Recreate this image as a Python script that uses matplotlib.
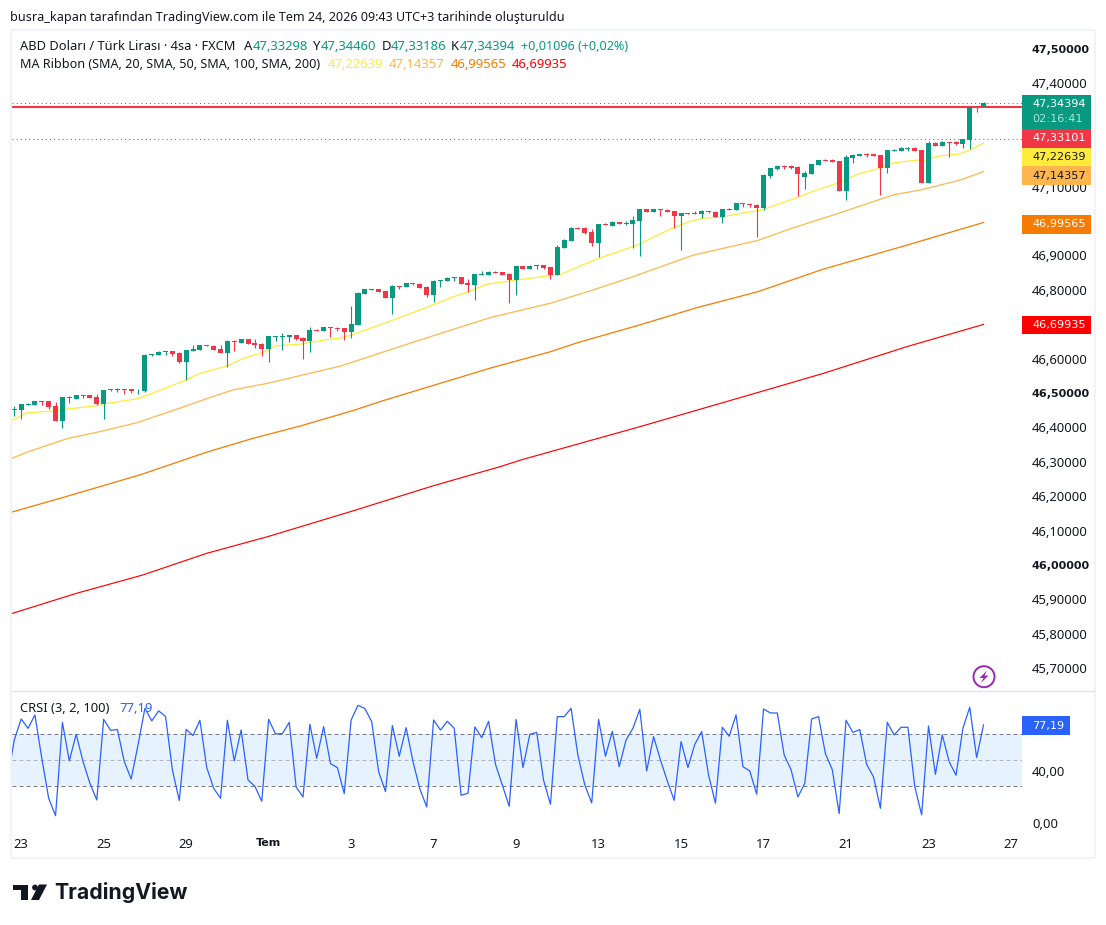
import numpy as np
import matplotlib
matplotlib.use("Agg")
import matplotlib.pyplot as plt
from matplotlib.patches import Rectangle, Polygon, Circle
from matplotlib.transforms import ScaledTranslation

plt.rcParams['font.family'] = ['Noto Sans', 'DejaVu Sans']

# 4h candles, USD/TRY
opens = [46.451,46.450,46.465,46.465,46.477,46.477,46.462,46.419,46.488,46.483,46.494,46.494,46.488,46.468,46.508,46.509,
         46.512,46.512,46.508,46.506,46.610,46.610,46.619,46.622,46.616,46.590,46.622,46.625,46.640,46.637,46.628,46.616,
         46.651,46.645,46.657,46.645,46.642,46.628,46.663,46.663,46.663,46.669,46.660,46.651,46.683,46.680,46.692,46.689,
         46.689,46.677,46.698,46.788,46.800,46.802,46.797,46.776,46.811,46.808,46.820,46.817,46.808,46.785,46.826,46.826,
         46.834,46.837,46.820,46.814,46.843,46.843,46.852,46.852,46.846,46.829,46.869,46.860,46.869,46.872,46.866,46.843,
         46.922,46.942,46.980,46.980,46.968,46.936,46.991,46.985,46.997,46.992,46.991,47.000,47.035,47.026,47.035,47.032,
         47.029,47.015,47.023,47.020,47.020,47.029,47.026,47.012,47.032,47.032,47.052,47.049,47.046,47.038,47.131,47.151,
         47.160,47.160,47.157,47.128,47.137,47.163,47.177,47.177,47.174,47.087,47.183,47.189,47.195,47.195,47.192,47.154,
         47.203,47.203,47.209,47.212,47.206,47.110,47.227,47.218,47.230,47.230,47.224,47.235,47.331,47.33298]
highs = [46.462,46.468,46.472,46.477,46.477,46.477,46.474,46.488,46.491,46.494,46.494,46.494,46.497,46.509,46.511,46.514,
         46.512,46.512,46.512,46.613,46.612,46.622,46.622,46.622,46.619,46.625,46.640,46.640,46.640,46.640,46.640,46.654,
         46.654,46.657,46.657,46.657,46.645,46.666,46.666,46.674,46.669,46.669,46.663,46.692,46.686,46.692,46.692,46.692,
         46.689,46.753,46.794,46.802,46.802,46.802,46.797,46.814,46.811,46.820,46.820,46.820,46.811,46.829,46.829,46.837,
         46.837,46.837,46.831,46.846,46.855,46.855,46.855,46.852,46.849,46.869,46.869,46.872,46.872,46.872,46.866,46.930,
         46.948,46.983,46.983,46.983,46.977,46.991,46.994,47.000,46.997,47.000,47.015,47.035,47.035,47.035,47.035,47.035,
         47.029,47.023,47.023,47.029,47.032,47.029,47.029,47.035,47.038,47.052,47.052,47.052,47.049,47.137,47.154,47.163,
         47.163,47.163,47.160,47.145,47.166,47.177,47.180,47.180,47.174,47.192,47.195,47.195,47.198,47.195,47.192,47.206,
         47.209,47.215,47.215,47.215,47.206,47.232,47.230,47.232,47.230,47.232,47.238,47.331,47.331,47.3446]
lows = [46.433,46.424,46.465,46.465,46.465,46.454,46.419,46.398,46.471,46.483,46.485,46.485,46.465,46.424,46.506,46.503,
        46.497,46.500,46.497,46.503,46.607,46.610,46.610,46.607,46.587,46.538,46.622,46.625,46.637,46.625,46.616,46.576,
        46.622,46.645,46.642,46.631,46.607,46.590,46.651,46.625,46.648,46.654,46.599,46.619,46.680,46.680,46.663,46.680,
        46.654,46.660,46.698,46.788,46.800,46.794,46.776,46.730,46.802,46.808,46.814,46.805,46.779,46.765,46.808,46.826,
        46.826,46.817,46.794,46.770,46.843,46.843,46.849,46.843,46.762,46.785,46.860,46.860,46.860,46.860,46.831,46.843,
        46.922,46.942,46.977,46.962,46.927,46.894,46.988,46.985,46.991,46.988,46.922,46.898,47.026,47.026,47.015,47.026,
        46.980,46.916,47.020,47.020,47.009,47.023,47.012,46.994,47.032,47.032,47.041,47.041,46.953,47.032,47.125,47.148,
        47.151,47.151,47.073,47.093,47.137,47.163,47.174,47.171,47.087,47.061,47.169,47.189,47.186,47.189,47.076,47.139,
        47.203,47.203,47.203,47.203,47.110,47.110,47.218,47.218,47.186,47.221,47.212,47.209,47.317,47.33186]
closes = [46.454,46.468,46.468,46.477,46.474,46.459,46.419,46.488,46.485,46.494,46.491,46.485,46.468,46.509,46.511,46.512,
          46.509,46.506,46.510,46.610,46.612,46.619,46.622,46.613,46.590,46.625,46.628,46.640,46.637,46.625,46.616,46.651,
          46.649,46.657,46.642,46.640,46.628,46.666,46.666,46.666,46.669,46.657,46.651,46.683,46.680,46.692,46.689,46.685,
          46.677,46.701,46.791,46.802,46.802,46.794,46.776,46.811,46.808,46.820,46.817,46.805,46.785,46.826,46.829,46.834,
          46.837,46.817,46.814,46.846,46.846,46.852,46.849,46.843,46.829,46.869,46.860,46.869,46.872,46.863,46.843,46.924,
          46.945,46.980,46.977,46.965,46.936,46.991,46.988,46.997,46.991,46.995,47.003,47.035,47.026,47.035,47.032,47.026,
          47.015,47.023,47.020,47.023,47.029,47.026,47.012,47.035,47.035,47.052,47.049,47.046,47.038,47.134,47.154,47.160,
          47.157,47.154,47.137,47.139,47.166,47.177,47.174,47.171,47.087,47.186,47.192,47.195,47.192,47.189,47.154,47.206,
          47.206,47.212,47.212,47.203,47.110,47.227,47.218,47.230,47.227,47.224,47.238,47.331,47.328,47.34394]

# moving averages, read at the bars where the slope changes
ma20_bars = [-0.4,1.8,5.7,7.1,12,13,17.8,19.3,25,27,31,33,36.7,38,41.6,44.5,47.4,48.8,54.7,60,63.9,66,68.7,72.6,77.5,79.4,
             84.7,90.5,95.4,98.3,100.2,102.7,106,109,110,114.3,116.7,119.2,123,125.5,127.9,131.3,132.7,134.2,137.6,139,141]
ma20 = [46.420,46.442,46.448,46.452,46.463,46.468,46.483,46.493,46.538,46.557,46.579,46.598,46.622,46.637,46.642,46.652,
        46.660,46.667,46.709,46.749,46.780,46.794,46.816,46.827,46.840,46.844,46.889,46.929,46.976,46.999,47.008,47.011,
        47.023,47.033,47.041,47.071,47.090,47.106,47.138,47.151,47.169,47.177,47.177,47.188,47.195,47.206,47.22639]
ma50_bars = [-0.5,2,7.8,12.5,17.9,24.1,27.5,31.8,36.8,47.4,59,69.2,78,83.8,90,98.8,108.1,113.3,119.1,127.9,131.8,137.6,141]
ma50 = [46.309,46.329,46.368,46.388,46.414,46.456,46.480,46.509,46.528,46.578,46.654,46.719,46.761,46.797,46.838,46.901,
        46.943,46.980,47.017,47.076,47.090,47.119,47.14357]
ma100_bars = [-0.5,6.7,18.3,28,34.7,41.6,49.3,53.7,69.2,78,81.9,91,99.3,108.1,117.7,129.9,141]
ma100 = [46.153,46.194,46.262,46.328,46.368,46.404,46.449,46.478,46.572,46.620,46.646,46.698,46.748,46.794,46.860,46.930,46.99565]
ma200_bars = [-0.5,9.1,18.7,28,36.8,48.9,60.9,70.7,74,91,108.1,117.7,129.9,141]
ma200 = [45.858,45.918,45.971,46.034,46.082,46.155,46.230,46.286,46.307,46.402,46.501,46.557,46.635,46.69935]

# CRSI, one value before the first candle so the line runs in from the edge
crsi = [34.9,65.6,81.8,74.6,84.9,51.5,20.8,7.4,79.2,49.5,70.0,49.0,32.3,19.5,81.5,73.1,73.6,49.0,35.6,61.8,90.0,80.3,88.0,83.8,
        42.6,19.0,73.8,69.0,80.8,44.4,28.5,20.8,80.8,49.5,73.3,34.9,30.0,18.5,81.5,70.3,70.5,79.2,29.5,21.8,77.7,51.5,75.9,47.4,
        44.4,24.4,81.0,92.3,89.8,79.7,41.3,25.9,76.7,53.1,75.1,49.0,28.0,14.1,81.0,73.3,80.0,74.6,23.1,24.6,75.7,67.4,80.0,46.9,
        31.0,14.6,81.5,44.4,70.0,71.5,34.6,16.2,83.6,83.6,90.0,53.6,31.0,17.2,81.5,53.1,72.3,45.1,65.6,74.6,89.2,41.8,68.2,50.3,
        34.1,19.2,64.4,44.4,62.3,72.1,38.7,17.0,75.4,68.5,84.9,45.1,41.8,23.9,89.5,86.4,86.4,54.1,42.8,21.8,32.3,81.8,83.6,55.1,
        42.8,9.0,80.8,71.5,73.6,46.9,37.2,13.1,79.2,69.5,75.4,75.4,29.8,8.0,76.4,39.2,69.5,49.0,38.5,74.6,90.8,52.1,77.19]

# 47,3 47,2 47,0 and 46,7 sit behind the price tags, so they are left out
price_ticks = [47.5,47.4,47.1,46.9,46.8,46.6,46.5,46.4,46.3,46.2,46.1,46.0,45.9,45.8,45.7]
bold_ticks = [47.5,46.5,46.0]
date_labels = ['23','25','29','Tem','3','7','9','13','15','17','21','23','27']
date_bars = [1,13,25,37,49,61,73,85,97,109,121,133,145]

last_price = 47.34394
red_level = 47.33101
prev_level = 47.2374

GREEN = '#089981'
RED = '#f23645'
INK = '#131722'
W, H = 1106, 925


def px_axes(left, top, right, bottom):
    return [left / W, 1 - bottom / H, (right - left) / W, (bottom - top) / H]


def comma(v, n=5):
    return f"{v:.{n}f}".replace('.', ',')


fig = plt.figure(figsize=(W / 100, H / 100), dpi=100, facecolor='white')

# main price pane
ax = fig.add_axes(px_axes(12, 31, 1022, 691))
x = np.arange(len(opens))
o, h, l, c = map(np.array, (opens, highs, lows, closes))
colors = [GREEN if b >= a else RED for a, b in zip(o, c)]

ax.axhline(last_price, color=GREEN, lw=0.75, ls=(0, (1, 3)), zorder=1)
ax.axhline(prev_level, color=RED, lw=0.75, ls=(0, (1, 3)), zorder=1)
ax.axhline(red_level, color=RED, lw=1.5, zorder=1)

ax.plot(ma20_bars, ma20, color='#ffeb3b', lw=0.9, zorder=2)
ax.plot(ma50_bars, ma50, color='#ffb74d', lw=0.9, zorder=2)
ax.plot(ma100_bars, ma100, color='#f57c00', lw=0.9, zorder=2)
ax.plot(ma200_bars, ma200, color='#ff0000', lw=0.85, zorder=2)

ax.vlines(x, l, h, colors=colors, lw=0.8, zorder=3)
ax.bar(x, np.abs(c - o), bottom=np.minimum(o, c), width=0.73, color=colors, linewidth=0, zorder=4)

ax.set_xlim(-0.335, 146.6)
ax.set_ylim(47.6424 - 691 / 344, 47.6424 - 31 / 344)
ax.set_xticks([])
ax.yaxis.tick_right()
ax.set_yticks(price_ticks)
ax.set_yticklabels([comma(t) for t in price_ticks], fontsize=9.4, color=INK)
for t, lab in zip(price_ticks, ax.get_yticklabels()):
    if t in bold_ticks:
        lab.set_fontweight('bold')
        lab.set_family('DejaVu Sans')
        lab.set_fontsize(8)
ax.tick_params(axis='y', length=0, pad=7.2)
for s in ax.spines.values():
    s.set_visible(False)

# CRSI pane
ax2 = fig.add_axes(px_axes(12, 692, 1022, 826))
ax2.axhspan(30, 70, color='#e6f3ff', lw=0, zorder=1)
ax2.axhline(70, color='#787b86', lw=0.72, ls=(0, (4, 3)), zorder=2)
ax2.axhline(50, color='#b2b5be', lw=0.72, ls=(0, (4, 3)), zorder=2)
ax2.axhline(30, color='#787b86', lw=0.72, ls=(0, (4, 3)), zorder=2)
ax2.plot(np.arange(-1, len(opens)), crsi, color='#2962ff', lw=0.9, zorder=3)
ax2.set_xlim(-0.335, 146.6)
ax2.set_ylim(70 - (826 - 734.3) / 1.3, 70 + (734.3 - 692) / 1.3)
ax2.yaxis.tick_right()
ax2.set_yticks([0, 40])
ax2.set_yticklabels(['0,00', '40,00'], fontsize=9.4, color=INK)
ax2.tick_params(axis='y', length=0, pad=7.2)
for lab in ax2.get_yticklabels():
    lab.set_transform(lab.get_transform() + ScaledTranslation(0, 1.5 / 72, fig.dpi_scale_trans))
ax2.set_xticks(date_bars)
ax2.set_xticklabels(date_labels, fontsize=9.4, color=INK)
tem = ax2.get_xticklabels()[3]
tem.set_fontweight('bold')
tem.set_family('DejaVu Sans')
tem.set_fontsize(8)
ax2.tick_params(axis='x', length=0, pad=9)
for s in ax2.spines.values():
    s.set_visible(False)

# overlay in pixels for the frame, tags, header texts and logo
ov = fig.add_axes([0, 0, 1, 1], zorder=10)
ov.set_xlim(0, W)
ov.set_ylim(H, 0)
ov.axis('off')

frame = '#f0f3fa'
ov.add_patch(Rectangle((11, 30), 1084, 828, fill=False, ec=frame, lw=1.5))
ov.plot([12, 1094], [691, 691], color='#e0e3eb', lw=1)


def tag(top, bottom, text, bg, fg, right=1090.5):
    ov.add_patch(Rectangle((1022, top), right - 1022, bottom - top, fc=bg, ec='none'))
    ov.text(1032, (top + bottom) / 2, text, color=fg, fontsize=8.15, family='DejaVu Sans', va='center', ha='left')


ov.add_patch(Rectangle((1022, 95), 68.5, 34, fc=GREEN, ec='none'))
ov.text(1032, 103.5, comma(last_price), color='white', fontsize=8.15, family='DejaVu Sans', va='center')
ov.text(1032, 118.5, '02:16:41', color='#b5e0d8', fontsize=8.15, family='DejaVu Sans', va='center')
tag(129, 148, comma(red_level), RED, 'white')
tag(148, 166, comma(ma20[-1]), '#ffeb3b', INK)
tag(166, 185, comma(ma50[-1]), '#ffb74d', INK)
tag(215, 234, comma(ma100[-1]), '#f57c00', 'white')
tag(316, 334, comma(ma200[-1]), '#ff0000', 'white')
tag(716, 735, comma(crsi[-1], 2), '#2962ff', 'white', right=1070)

ov.text(10, 17, 'busra_kapan tarafından TradingView.com ile Tem 24, 2026 09:43 UTC+3 tarihinde oluşturuldu',
        color=INK, fontsize=9.05, va='center')


def row(y, parts):
    for xp, s, col, size in parts:
        ov.text(xp, y, s, color=col, fontsize=size, va='center')


row(47, [(20, 'ABD Doları / Türk Lirası · 4sa · FXCM', INK, 9.25),
         (244, 'A', INK, 9.4), (253, comma(opens[-1]), GREEN, 9.4),
         (313, 'Y', INK, 9.4), (321, comma(47.34460), GREEN, 9.4),
         (382, 'D', INK, 9.4), (391, comma(lows[-1]), GREEN, 9.4),
         (451, 'K', INK, 9.4), (460, comma(last_price), GREEN, 9.4),
         (521, '+0,01096 (+0,02%)', GREEN, 9.05)])
row(65, [(20, 'MA Ribbon (SMA, 20, SMA, 50, SMA, 100, SMA, 200)', INK, 9.07),
         (328, comma(ma20[-1]), '#ffeb3b', 9.4), (389, comma(ma50[-1]), '#ffb74d', 9.4),
         (451, comma(ma100[-1]), '#f57c00', 9.4), (512, comma(ma200[-1]), '#ff0000', 9.4)])
row(708.5, [(20, 'CRSI (3, 2, 100)', INK, 9.3), (119, comma(crsi[-1], 2), '#2962ff', 9.4)])

# lightning badge
ov.add_patch(Circle((984, 676.7), 10.5, fill=False, ec='#9c27b0', lw=1.4))
ov.add_patch(Polygon([(987, 670.5), (979.5, 678), (983.5, 678), (981, 683), (988.5, 675.5), (984.5, 675.5)],
                     closed=True, fc='#9c27b0', ec='none'))

# TradingView logo
ov.add_patch(Polygon([(13, 885), (28, 885), (28, 900), (20.5, 900), (20.5, 890), (13, 890)], closed=True, fc=INK, ec='none'))
ov.add_patch(Circle((35, 887.5), 2.9, fc=INK, ec='none'))
ov.add_patch(Polygon([(39, 884.5), (47, 884.5), (39, 900), (31, 900)], closed=True, fc=INK, ec='none'))
ov.text(54, 892.5, 'TradingView', color=INK, fontsize=15.3, fontweight='bold', family='Inter', va='center')

fig.savefig('out.png', dpi=100)
